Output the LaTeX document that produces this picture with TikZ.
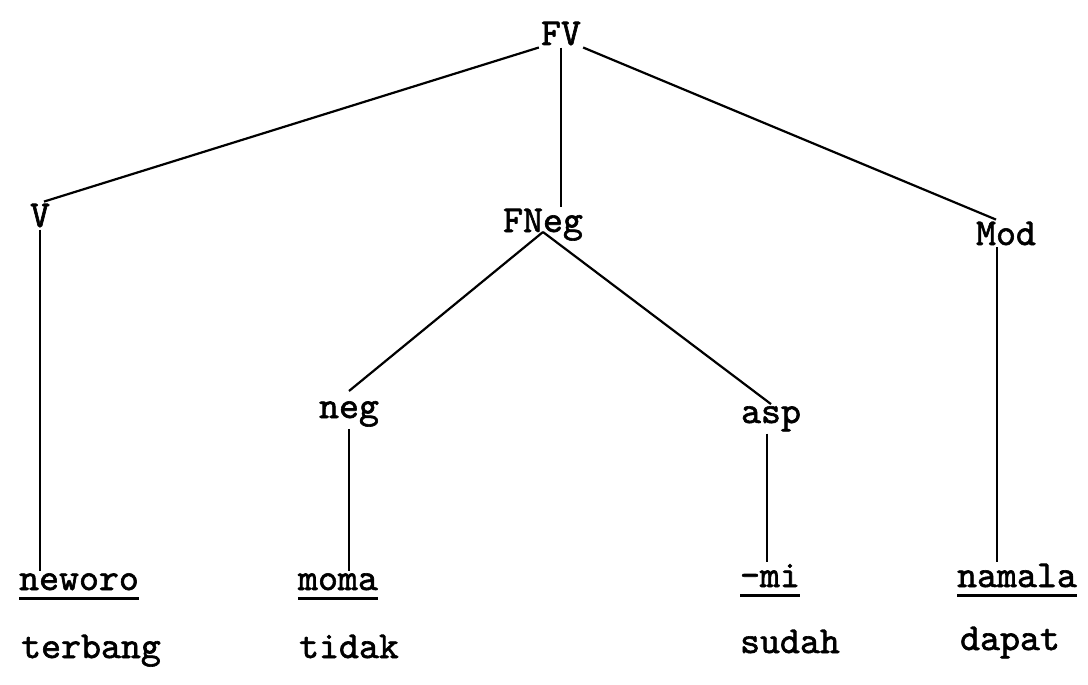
\documentclass[tikz,border=0pt]{standalone}
\usepackage{fontspec}
\usepackage{tikz}
\newfontfamily\mesin{lmmono10-regular}[Extension=.otf, FakeBold=1.6]
\newcommand{\ulword}[1]{\setbox0\hbox{#1}\rlap{\rule[-10pt]{\wd0}{2.6pt}}\box0}

\begin{document}
\begin{tikzpicture}[x=1pt, y=-1pt, every node/.style={font=\fontsize{38}{42}\selectfont\mesin, anchor=base, inner sep=2pt}, rama/.style={line width=2.2pt}]
		\useasboundingbox (0,0) rectangle (1088,685);
		\node (fv) at (561,45) {FV}; % raiz
		\node (v) at (40,227) {V};
		\node (fneg) at (543,232) {FNeg};
		\node (mod) at (1006,245) {Mod};
		\node (neg) at (349,418) {neg};
		\node (asp) at (771,423) {asp};
			\node (neworo) at (79,590) {\ulword{neworo}}; % palabras
			\node (moma) at (338,590) {\ulword{moma}};
			\node (mi) at (770,587) {\ulword{-mi}};
			\node (namala) at (1017,587) {\ulword{namala}};
			\node (terbang) at (91,658) {terbang}; % glosas
			\node (tidak) at (349,658) {tidak};
			\node (sudah) at (790,653) {sudah};
			\node (dapat) at (1010,650) {dapat};
		\draw [rama] (fv.south west) -- ([xshift=4pt]v.north);
		\draw [rama] (fv.south) -- (fneg.north -| fv.south);
		\draw [rama] (fv.south east) -- ([xshift=-10pt]mod.north);
		\draw [rama] (fneg.base) -- ([yshift=8pt]neg.north);
		\draw [rama] (fneg.base) -- (asp.north);
			\draw [rama] (v.south) -- (v.south |- neworo.north); % verticales
			\draw [rama] (neg.south) -- (neg.south |- moma.north);
			\draw [rama] ([xshift=-4pt]asp.south) -- ([xshift=-4pt]asp.south |- mi.north);
			\draw [rama] ([xshift=-9pt]mod.south) -- ([xshift=-9pt]mod.south |- namala.north);
		\end{tikzpicture}
\end{document}
